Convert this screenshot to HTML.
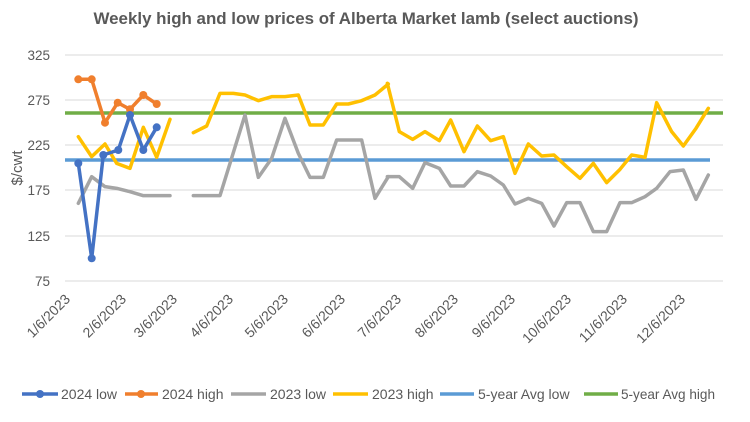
<!DOCTYPE html>
<html><head><meta charset="utf-8"><style>
body{margin:0;background:#fff;}
svg{display:block;font-family:"Liberation Sans",sans-serif;}
.s{fill:none;stroke-linejoin:round;stroke-linecap:round;vector-effect:non-scaling-stroke;}
</style></head><body>
<svg width="750" height="422" viewBox="0 0 750 422">
<text x="366" y="24" text-anchor="middle" font-size="16.5" font-weight="bold" fill="#595959" textLength="545" lengthAdjust="spacingAndGlyphs">Weekly high and low prices of Alberta Market lamb (select auctions)</text>
<g stroke="#d9d9d9" stroke-width="1">
<line x1="65" y1="55" x2="723" y2="55"/><line x1="65" y1="100" x2="723" y2="100"/><line x1="65" y1="145" x2="723" y2="145"/>
<line x1="65" y1="190" x2="723" y2="190"/><line x1="65" y1="236" x2="723" y2="236"/><line x1="65" y1="281" x2="723" y2="281"/>
</g>
<g font-size="13.5" fill="#595959" text-anchor="end">
<text x="50" y="60">325</text><text x="50" y="105">275</text><text x="50" y="150">225</text>
<text x="50" y="195">175</text><text x="50" y="241">125</text><text x="50" y="286">75</text>
</g>
<text transform="translate(22,168) rotate(-90)" text-anchor="middle" font-size="15" fill="#595959">$/cwt</text>
<line x1="65" y1="113" x2="723" y2="113" stroke="#70ad47" stroke-width="3.5"/>
<line x1="65" y1="160" x2="710" y2="160" stroke="#5b9bd5" stroke-width="3.5"/>
<g transform="translate(40,70) scale(0.33333)">
<polyline class="s" stroke="#a5a5a5" stroke-width="3.5" points="115,400 155,320 195,350 230,355 270,365 310,377 350,377 390,377"/>
<polyline class="s" stroke="#a5a5a5" stroke-width="3.5" points="460,377 500,377 540,377 615,135 655,322 695,265 735,145 775,250 810,322 850,322 890,210 925,210 965,210 1005,385 1045,320"/>
<polyline class="s" stroke="#ffc000" stroke-width="3.5" points="115,200 155,260 195,222 230,280 270,295 310,172 350,262 390,148"/>
<polyline class="s" stroke="#ffc000" stroke-width="3.5" points="460,188 500,168 540,70 580,70 615,75 655,92 695,80 735,80 775,75 810,165 850,165 890,102 925,102 965,92 1005,75 1045,42"/>
</g>
<g transform="translate(380,70) scale(0.33333)">
<polyline class="s" stroke="#a5a5a5" stroke-width="3.5" points="22,320 58,320 98,355 135,278 178,295 212,348 252,348 292,305 332,318 370,345 405,402 445,385 485,400 522,468 560,398 600,398 640,485 680,485 720,398 755,398 795,380 830,355 870,305 910,300 948,388 985,315"/>
<polyline class="s" stroke="#ffc000" stroke-width="3.5" points="22,40 58,185 98,208 135,185 178,212 212,150 252,245 292,168 332,212 370,200 405,310 445,222 485,258 522,255 560,290 600,325 640,280 680,338 720,298 755,255 795,262 830,98 875,185 910,228 948,175 985,115"/>
</g>
<g stroke-width="3.5" fill="none" stroke-linejoin="round">
<polyline stroke="#f07f2d" points="78.3,79.3 91.7,79.3 105,122.7 117.7,102.7 130,109.3 143.3,95 156.7,104"/>
<polyline stroke="#4472c4" points="78.3,163.3 91.7,258.3 103.3,155 118.3,150 130,115 143.3,150 156.7,127.3"/>
</g>
<g fill="#f07f2d"><circle cx="78.3" cy="79.3" r="4"/><circle cx="91.7" cy="79.3" r="4"/><circle cx="105" cy="122.7" r="4"/><circle cx="117.7" cy="102.7" r="4"/><circle cx="130" cy="109.3" r="4"/><circle cx="143.3" cy="95" r="4"/><circle cx="156.7" cy="104" r="4"/></g>
<g fill="#4472c4"><circle cx="78.3" cy="163.3" r="4"/><circle cx="91.7" cy="258.3" r="4"/><circle cx="103.3" cy="155" r="4"/><circle cx="118.3" cy="150" r="4"/><circle cx="130" cy="115" r="4"/><circle cx="143.3" cy="150" r="4"/><circle cx="156.7" cy="127.3" r="4"/></g>
<g font-size="14" fill="#595959" text-anchor="end">
<text transform="translate(71,300) rotate(-45)">1/6/2023</text>
<text transform="translate(127,300) rotate(-45)">2/6/2023</text>
<text transform="translate(178,300) rotate(-45)">3/6/2023</text>
<text transform="translate(234,300) rotate(-45)">4/6/2023</text>
<text transform="translate(289,300) rotate(-45)">5/6/2023</text>
<text transform="translate(346,300) rotate(-45)">6/6/2023</text>
<text transform="translate(402,300) rotate(-45)">7/6/2023</text>
<text transform="translate(459,300) rotate(-45)">8/6/2023</text>
<text transform="translate(516,300) rotate(-45)">9/6/2023</text>
<text transform="translate(572,300) rotate(-45)">10/6/2023</text>
<text transform="translate(628,300) rotate(-45)">11/6/2023</text>
<text transform="translate(686,300) rotate(-45)">12/6/2023</text>
</g>
<g font-size="14" fill="#595959">
<line x1="22" y1="394" x2="58" y2="394" stroke="#4472c4" stroke-width="3.5"/><circle cx="40" cy="394" r="4" fill="#4472c4"/>
<text x="61" y="399">2024 low</text>
<line x1="125" y1="394" x2="158" y2="394" stroke="#f07f2d" stroke-width="3.5"/><circle cx="141" cy="394" r="4" fill="#f07f2d"/>
<text x="162" y="399">2024 high</text>
<line x1="231" y1="394" x2="266" y2="394" stroke="#a5a5a5" stroke-width="3.5"/>
<text x="270" y="399">2023 low</text>
<line x1="333" y1="394" x2="368" y2="394" stroke="#ffc000" stroke-width="3.5"/>
<text x="372" y="399">2023 high</text>
<line x1="440" y1="394" x2="474" y2="394" stroke="#5b9bd5" stroke-width="3.5"/>
<text x="478" y="399">5-year Avg low</text>
<line x1="584" y1="394" x2="618" y2="394" stroke="#70ad47" stroke-width="3.5"/>
<text x="621" y="399" textLength="94" lengthAdjust="spacingAndGlyphs">5-year Avg high</text>
</g>
</svg>
</body></html>
